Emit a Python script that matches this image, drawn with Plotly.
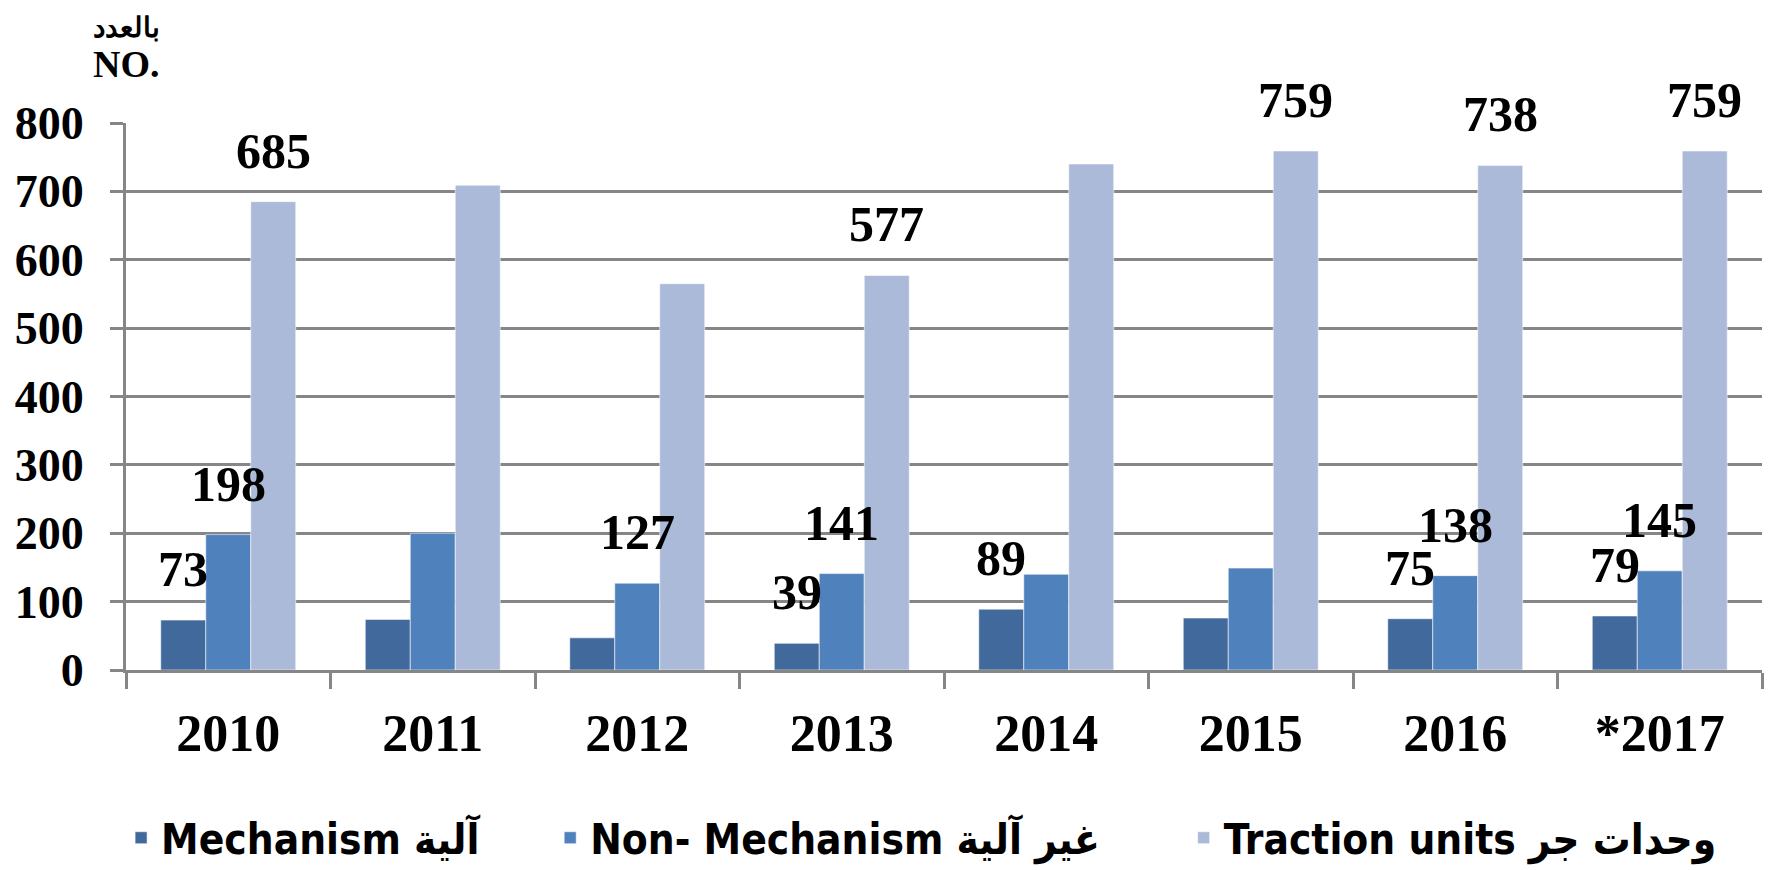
import plotly.graph_objects as go

years = ["2010", "2011", "2012", "2013", "2014", "2015", "2016", "*2017"]
mechanism = [73, 74, 47, 39, 89, 76, 75, 79]
non_mechanism = [198, 200, 127, 141, 140, 149, 138, 145]
traction = [685, 709, 565, 577, 740, 759, 738, 759]

# which values carry a data label in the original chart
mech_labelled = [True, False, False, True, True, False, True, True]
non_labelled = [True, False, True, True, False, False, True, True]
trac_labelled = [True, False, False, True, False, True, True, True]

names = ["Mechanism آلية", "Non- Mechanism غير آلية", "Traction units وحدات جر"]
colors = ["#41699c", "#4f81bd", "#abbad8"]
pads = ["\u00a0" * 5, "\u00a0" * 6, "\u00a0" * 2]

serif = "Liberation Serif, Times New Roman, serif"
sans = "DejaVu Sans Condensed, DejaVu Sans, sans-serif"

fig = go.Figure()
series = [mechanism, non_mechanism, traction]
for s, name, col, pd_ in zip(series, names, colors, pads):
    fig.add_trace(go.Bar(
        x=years, y=s, name=name + pd_,
        marker=dict(color=col, line=dict(color="rgba(255,255,255,0.55)", width=1)),
    ))

annotations = []
bar_px = 45
for idx, (s, flags) in enumerate(zip(series, [mech_labelled, non_labelled, trac_labelled])):
    for ci, (v, f) in enumerate(zip(s, flags)):
        if f:
            # x given as the category index (numeric-looking category names
            # would otherwise be read as indices by the category axis)
            annotations.append(dict(
                x=ci, y=v, xref="x", yref="y", text=str(v), showarrow=False,
                xshift=(idx - 1) * bar_px, yshift=51, yanchor="middle", xanchor="center",
                font=dict(family=serif, size=50, color="black", weight="bold"),
            ))

# the page body adds an 8px offset, so the figure is laid out 8px smaller
W, H = 1776, 862
ml, mr, mt, mb = 118, 22, 115, 200
pw, ph = W - ml - mr, H - mt - mb

header = [("بالعدد", 118, 19, 28), ("NO.", 118, 56, 38)]
for txt, px, py, size in header:
    annotations.append(dict(
        x=(px - ml) / pw, y=1 + (mt - py) / ph, xref="paper", yref="paper",
        text=txt, showarrow=False, xanchor="center", yanchor="middle",
        font=dict(family=serif, size=size, color="black", weight="bold"),
    ))

fig.update_layout(
    width=W, height=H,
    margin=dict(l=ml, r=mr, t=mt, b=mb, pad=0, autoexpand=False),
    paper_bgcolor="white", plot_bgcolor="white",
    barmode="group", bargap=0.34, bargroupgap=0,
    annotations=annotations,
    showlegend=True,
    legend=dict(
        orientation="h", x=-0.003, xanchor="left", y=-0.307, yanchor="middle",
        font=dict(family=sans, size=42, color="black", weight="bold"),
        itemclick=False, traceorder="normal",
    ),
    xaxis=dict(
        type="category", range=[-0.5, len(years) - 0.5], autorange=False,
        showline=True, linecolor="#868686", linewidth=3,
        ticks="outside", tickson="boundaries", ticklen=16, tickwidth=3, tickcolor="#868686",
        tickfont=dict(family=serif, size=52, color="black", weight="bold"),
        tickangle=0, ticklabelstandoff=16,
        showgrid=False,
    ),
    yaxis=dict(
        range=[0, 800], dtick=100, tick0=0,
        showline=True, linecolor="#868686", linewidth=3,
        ticks="outside", ticklen=13, tickwidth=3, tickcolor="#868686",
        showgrid=True, gridcolor="#868686", gridwidth=3,
        zeroline=False,
        tickfont=dict(family=serif, size=46, color="black", weight="bold"),
        ticklabelstandoff=17,
    ),
)

fig.write_html("out.html")
